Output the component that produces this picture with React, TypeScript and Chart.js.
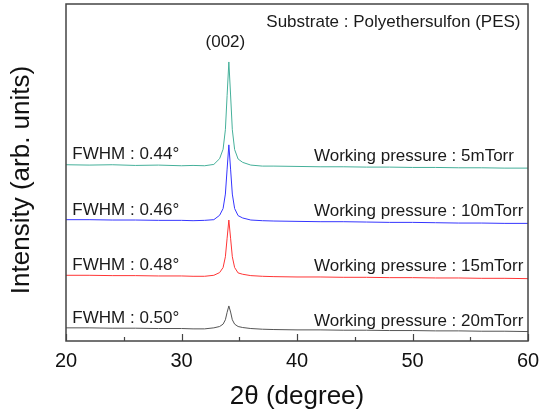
import React, { useEffect, useRef } from "react";
import { Chart, registerables } from "chart.js";

Chart.register(...registerables);

const twoTheta = [20, 22, 24, 26, 28, 30, 31, 32, 32.8, 33.3, 33.6, 33.8, 33.95, 34.1, 34.25, 34.4, 34.6, 34.9, 35.3, 36, 37, 38, 40, 42, 44, 46, 48, 50, 52, 54, 56, 58, 60];

const p5mTorr = [52.3, 52.2, 52.3, 52.1, 52.2, 52.0, 52.1, 52.0, 52.4, 54.1, 56.9, 62.7, 72.9, 82.8, 73.0, 62.7, 56.8, 54.0, 53.0, 52.2, 51.9, 51.9, 51.8, 51.7, 51.7, 51.6, 51.6, 51.5, 51.5, 51.4, 51.4, 51.3, 51.3];
const p10mTorr = [36.0, 36.0, 35.9, 35.9, 35.8, 35.8, 35.7, 35.8, 36.0, 37.3, 39.3, 43.6, 51.0, 58.2, 51.0, 43.6, 39.3, 37.2, 36.5, 35.9, 35.7, 35.6, 35.5, 35.4, 35.4, 35.3, 35.2, 35.2, 35.1, 35.0, 35.0, 34.9, 34.9];
const p15mTorr = [19.5, 19.5, 19.4, 19.4, 19.3, 19.3, 19.2, 19.2, 19.5, 20.3, 21.8, 25.0, 30.5, 35.9, 30.5, 25.0, 21.8, 20.2, 19.8, 19.4, 19.2, 19.1, 19.0, 19.0, 18.9, 18.9, 18.8, 18.8, 18.7, 18.7, 18.6, 18.6, 18.5];
const p20mTorr = [3.9, 3.9, 3.8, 3.8, 3.7, 3.7, 3.6, 3.6, 3.9, 4.3, 5.0, 6.3, 8.5, 10.4, 8.6, 6.3, 5.0, 4.3, 4.0, 3.7, 3.5, 3.4, 3.3, 3.3, 3.2, 3.2, 3.1, 3.1, 3.0, 3.0, 2.9, 2.9, 2.8];

const fwhmLabels = ["FWHM : 0.44°", "FWHM : 0.46°", "FWHM : 0.48°", "FWHM : 0.50°"];
const fwhmY = [55.3, 38.7, 22.4, 6.6];
const pressureLabels = ["Working pressure : 5mTorr", "Working pressure : 10mTorr", "Working pressure : 15mTorr", "Working pressure : 20mTorr"];
const pressureY = [54.7, 38.4, 22.1, 5.7];
const majorTicks = [20, 30, 40, 50, 60];
const minorTicks = [25, 35, 45, 55];

const FONT = "'Liberation Sans', Arial, sans-serif";

const toPts = (ys: number[]) => ys.map((y, i) => ({ x: twoTheta[i], y }));

const annotPlugin = {
  id: "annot",
  afterDatasetsDraw(chart: any) {
    const { ctx, chartArea, scales } = chart;
    const xs = scales.x;
    const ys = scales.y;
    ctx.save();
    // frame
    ctx.strokeStyle = "#444";
    ctx.lineWidth = 1.5;
    ctx.strokeRect(chartArea.left, chartArea.top, chartArea.right - chartArea.left, chartArea.bottom - chartArea.top);
    // inward ticks
    ctx.lineWidth = 1.2;
    ctx.beginPath();
    majorTicks.forEach((v) => {
      const px = Math.round(xs.getPixelForValue(v)) + 0.5;
      ctx.moveTo(px, chartArea.bottom);
      ctx.lineTo(px, chartArea.bottom - 7);
    });
    minorTicks.forEach((v) => {
      const px = Math.round(xs.getPixelForValue(v)) + 0.5;
      ctx.moveTo(px, chartArea.bottom);
      ctx.lineTo(px, chartArea.bottom - 4);
    });
    ctx.stroke();
    // texts
    ctx.fillStyle = "#1a1a1a";
    ctx.font = `17px ${FONT}`;
    ctx.textBaseline = "middle";
    ctx.textAlign = "left";
    fwhmLabels.forEach((t, i) => {
      ctx.fillText(t, xs.getPixelForValue(20.55), ys.getPixelForValue(fwhmY[i]));
    });
    pressureLabels.forEach((t, i) => {
      ctx.fillText(t, xs.getPixelForValue(41.47), ys.getPixelForValue(pressureY[i]));
    });
    ctx.textAlign = "right";
    ctx.fillText("Substrate : Polyethersulfon (PES)", xs.getPixelForValue(59.35), ys.getPixelForValue(94.6));
    ctx.textAlign = "center";
    ctx.fillText("(002)", xs.getPixelForValue(33.8), ys.getPixelForValue(88.6));
    // y-axis title
    ctx.fillStyle = "#111";
    ctx.font = `26px ${FONT}`;
    ctx.translate(22, 180);
    ctx.rotate(-Math.PI / 2);
    ctx.textAlign = "center";
    ctx.textBaseline = "middle";
    ctx.fillText("Intensity (arb. units)", 0, 0);
    ctx.restore();
  },
};

export default function App() {
  const ref = useRef<HTMLCanvasElement | null>(null);
  useEffect(() => {
    if (!ref.current) return;
    const mk = (label: string, data: number[], color: string) => ({
      label,
      data: toPts(data),
      borderColor: color,
      backgroundColor: color,
      borderWidth: 1,
      pointRadius: 0,
      showLine: true,
      tension: 0,
    });
    const chart = new Chart(ref.current, {
      type: "scatter",
      data: {
        datasets: [
          mk("5mTorr", p5mTorr, "#45b09a"),
          mk("10mTorr", p10mTorr, "#3535ff"),
          mk("15mTorr", p15mTorr, "#ff3535"),
          mk("20mTorr", p20mTorr, "#555555"),
        ],
      },
      options: {
        animation: false,
        responsive: true,
        maintainAspectRatio: false,
        layout: { padding: { left: 0, top: 4, right: 14, bottom: 0 } },
        plugins: { legend: { display: false }, tooltip: { enabled: false } },
        scales: {
          x: {
            type: "linear",
            min: 20,
            max: 60,
            grid: { display: false, drawTicks: false },
            border: { display: false },
            ticks: { stepSize: 10, padding: 8, color: "#111", font: { size: 20, family: FONT } },
            title: { display: true, text: "2θ (degree)", color: "#111", font: { size: 26, family: FONT }, padding: { top: 0, bottom: 2 } },
            afterFit: (s: any) => { s.height = 73; s.paddingLeft = 0; s.paddingRight = 0; },
          },
          y: {
            min: 0,
            max: 100,
            grid: { display: false, drawTicks: false },
            border: { display: false },
            ticks: { display: false },
            title: { display: false },
            afterFit: (s: any) => { s.width = 66; },
          },
        },
      },
      plugins: [annotPlugin],
    });
    return () => chart.destroy();
  }, []);
  return (
    <div style={{ position: "fixed", left: 0, top: 0, width: 542, height: 414, background: "#fff" }}>
      <canvas ref={ref} />
    </div>
  );
}
